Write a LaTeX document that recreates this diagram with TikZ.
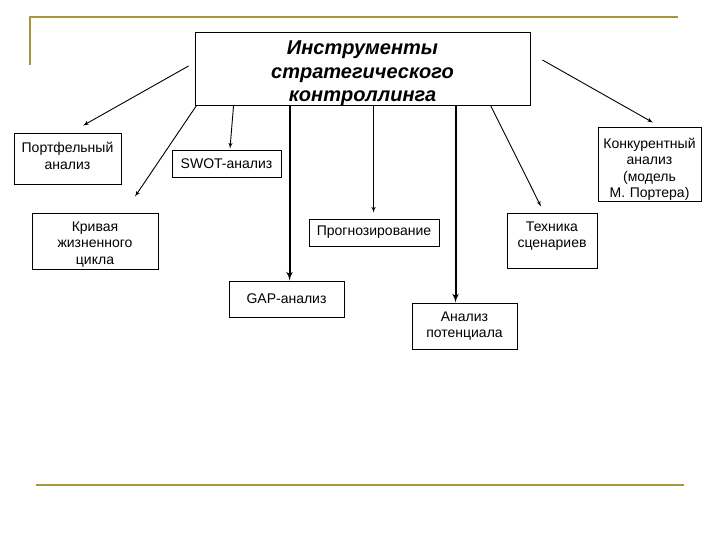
\documentclass[tikz,border=0pt]{standalone}
\usepackage{fontspec}
\setmainfont{Liberation Sans}
\usetikzlibrary{arrows,calc,positioning}
\definecolor{rulecolor}{RGB}{168,150,62}
\tikzstyle{box} = [draw, rectangle, line width=0.9pt, inner sep=0pt, align=center, font=\fontsize{14}{16.5}\selectfont]
\tikzstyle{title} = [box, font=\fontsize{20}{23.5}\selectfont\bfseries\itshape]
\tikzstyle{line} = [draw, line width=0.9pt, -latex']
\tikzstyle{thickline} = [draw, line width=2pt, -latex']
\tikzstyle{rule} = [draw, line width=2pt, rulecolor]

\begin{document}
\begin{tikzpicture}[x=1pt, y=-1pt]
	\useasboundingbox (0,0) rectangle (720,540);
	\path [rule] (30,65) -- (30,17) -- (678,17);
	\path [rule] (36,485) -- (684,485);

	\node [title, minimum width=335pt, minimum height=73pt, text width=335pt, text height=23pt, text depth=50pt](main) at (362.5,68.5){Инструменты\\стратегического\\контроллинга};
	\node [box, minimum width=107pt, minimum height=51pt, text width=107pt, text height=20pt, text depth=31pt](portf) at (67.5,158.5){Портфельный\\анализ};
	\node [box, minimum width=109pt, minimum height=27pt](swot) at (226.5,163.5){SWOT-анализ};
	\node [box, minimum width=126pt, minimum height=56pt, text width=126pt, text height=18.5pt, text depth=37.5pt](krivaya) at (95,241){Кривая\\жизненного\\цикла};
	\node [box, minimum width=130pt, minimum height=27pt](prog) at (374,232.5){Прогнозирование};
	\node [box, minimum width=90pt, minimum height=55pt, text width=90pt, text height=18pt, text depth=37pt](tech) at (552,240.5){Техника\\сценариев};
	\node [box, minimum width=103pt, minimum height=74pt, text width=103pt, text height=21.5pt, text depth=52.5pt](konk) at (649.5,164){Конкурентный\\анализ\\(модель\\М. Портера)};
	\node [box, minimum width=115pt, minimum height=36pt](gap) at (286.5,299){GAP-анализ};
	\node [box, minimum width=105pt, minimum height=46pt](pot) at (464.5,326){Анализ\\потенциала};

	\path [line] ([xshift=-6pt,yshift=2.5pt]main.west) -- ([xshift=15.5pt,yshift=7pt]portf.north);
	\path [line] ([xshift=2pt]main.south west) -- ([xshift=40pt,yshift=16pt]krivaya.north);
	\path [line] ([xshift=39pt]main.south west) -- ([xshift=3.5pt,yshift=1pt]swot.north);
	\path [thickline] ([xshift=95pt]main.south west) coordinate (g) -- (g |- gap.north);
	\path [line, shorten >=6pt] ([xshift=179pt]main.south west) coordinate (p) -- (p |- prog.north);
	\path [thickline] ([xshift=261pt]main.south west) coordinate (a) -- (a |- pot.north);
	\path [line] ([xshift=296pt]main.south west) -- ([xshift=-11pt,yshift=6pt]tech.north);
	\path [line] ([xshift=12pt,yshift=8.5pt]main.east) -- ([xshift=3.5pt,yshift=4pt]konk.north);
\end{tikzpicture}
\end{document}
